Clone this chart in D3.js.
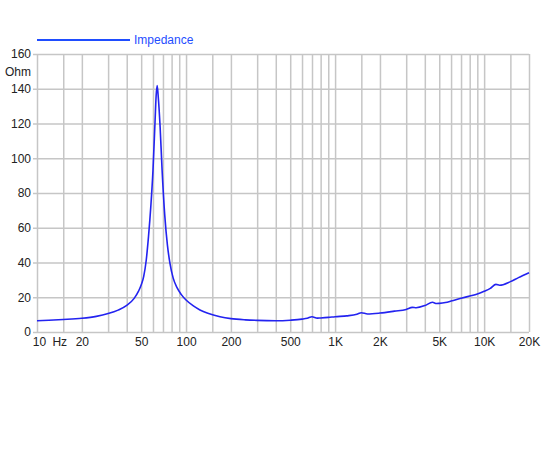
<!DOCTYPE html>
<html>
<head>
<meta charset="utf-8">
<script src="https://cdn.jsdelivr.net/npm/d3@7"></script>
<style>
  body { margin: 0; background: #fff; }
  svg { display: block; font-family: "Liberation Sans", Arial, sans-serif; }
  .grid line { stroke: #c6c6c6; stroke-width: 1.5; }
  .grid path { display: none; }
  .axis path { display: none; }
  .axis line { stroke: #c6c6c6; stroke-width: 1.5; }
  .axis text { fill: #222; font-size: 12px; }
</style>
</head>
<body>
<svg width="550" height="450"></svg>
<script>
// impedance curve
const freq = [10, 12, 15, 20, 25, 30, 35, 40, 45, 48, 50, 52, 54, 56, 58, 60, 62, 63, 64, 65, 67, 69, 72, 75, 78, 82, 87, 93, 100, 112, 124, 140, 169, 200, 250, 300, 400, 500, 600, 650, 700, 760, 800, 900, 1000, 1200, 1400, 1500, 1650, 2000, 2500, 3000, 3300, 3500, 4000, 4500, 4800, 5000, 5500, 6000, 7000, 8000, 9000, 10000, 11000, 12000, 12700, 15000, 17000, 20000];
const impedance = [6.5, 6.8, 7.2, 7.9, 9.0, 10.6, 12.6, 15.3, 19.5, 23.5, 27, 32, 41, 55, 72, 93, 122, 136, 141.8, 136, 118, 94, 67, 50, 39.5, 31, 25.5, 21.5, 18.4, 15.0, 12.7, 10.8, 8.8, 7.7, 7.0, 6.7, 6.5, 6.8, 7.4, 7.9, 8.8, 8.0, 8.1, 8.4, 8.8, 9.3, 10.2, 11.1, 10.4, 10.9, 12.0, 13.0, 14.2, 14.0, 15.2, 17.1, 16.4, 16.5, 17.0, 17.8, 19.4, 20.7, 21.9, 23.4, 25.1, 27.4, 26.9, 29.0, 31.3, 34.1];

const xGrid = [10, 15, 20, 30, 40, 50, 60, 70, 80, 90, 100, 150, 200, 300, 400, 500, 600, 700, 800, 900, 1000, 1500, 2000, 3000, 4000, 5000, 6000, 7000, 8000, 9000, 10000, 15000, 20000];
const xTicks = [10, 15, 20, 50, 100, 200, 500, 1000, 2000, 5000, 10000, 20000];
const xTickLabels = ["10", "Hz", "20", "50", "100", "200", "500", "1K", "2K", "5K", "10K", "20K"];
const yTicks = [0, 20, 40, 60, 80, 100, 120, 140, 150, 160];
const yTickLabels = ["0", "20", "40", "60", "80", "100", "120", "140", "Ohm", "160"];
const yGrid = [0, 20, 40, 60, 80, 100, 120, 140, 160];
const seriesName = "Impedance";

const svg = d3.select("svg");
const plotLeft = 37, plotRight = 529, plotTop = 54, plotBottom = 332;

const x = d3.scaleLog().domain([10, 20000]).range([plotLeft, plotRight]);
const y = d3.scaleLinear().domain([0, 160]).range([plotBottom, plotTop]);

// grid
svg.append("g")
    .attr("class", "grid")
    .attr("transform", `translate(0,${plotBottom})`)
    .call(d3.axisBottom(x).tickValues(xGrid).tickSize(-(plotBottom - plotTop)).tickFormat(""));

svg.append("g")
    .attr("class", "grid")
    .attr("transform", `translate(${plotLeft},0)`)
    .call(d3.axisLeft(y).tickValues(yGrid).tickSize(-(plotRight - plotLeft)).tickFormat(""));

// axis labels
const xAxis = svg.append("g")
    .attr("class", "axis")
    .attr("transform", `translate(0,${plotBottom})`)
    .call(d3.axisBottom(x).tickValues(xTicks).tickSize(0).tickPadding(5)
        .tickFormat((d, i) => xTickLabels[i]));
xAxis.selectAll("line").remove();
xAxis.selectAll("text").attr("dx", (d, i) => i === 0 ? "2" : (i === 1 ? "-4" : "0"));

const yAxis = svg.append("g")
    .attr("class", "axis")
    .attr("transform", `translate(${plotLeft},0)`)
    .call(d3.axisLeft(y).tickValues(yTicks).tickSize(4).tickPadding(2)
        .tickFormat((d, i) => yTickLabels[i]));
yAxis.selectAll(".tick").filter(d => d === 150).select("line").remove();

// curve
const line = d3.line()
    .x((d, i) => x(freq[i]))
    .y(d => y(d))
    .curve(d3.curveMonotoneX);

svg.append("path")
    .datum(impedance)
    .attr("fill", "none")
    .attr("stroke", "#2323f0")
    .attr("stroke-width", 1.6)
    .attr("d", line);

// legend
svg.append("line")
    .attr("x1", 37).attr("x2", 130)
    .attr("y1", 40).attr("y2", 40)
    .attr("stroke", "#1f4dff")
    .attr("stroke-width", 2);

svg.append("text")
    .attr("x", 134).attr("y", 44)
    .attr("fill", "#1f4dff")
    .attr("font-size", "12px")
    .text(seriesName);
</script>
</body>
</html>
